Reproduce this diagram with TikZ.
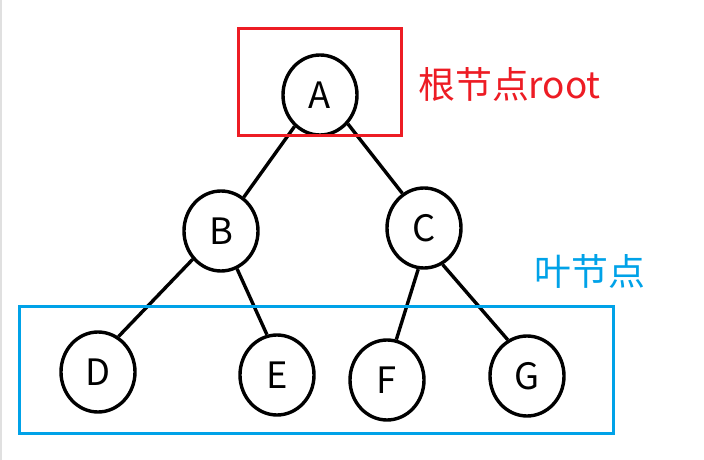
\documentclass[tikz,border=0pt]{standalone}
\usepackage{fontspec}
\setmainfont{Noto Sans CJK SC}
\usetikzlibrary{shapes.geometric}
\definecolor{paintred}{RGB}{237,28,36}
\definecolor{paintblue}{RGB}{0,162,232}

\begin{document}
\begin{tikzpicture}[x=0.03cm, y=-0.03cm,
	treenode/.style={shape=ellipse, draw, line width=2.9pt, inner sep=0pt, minimum width=2.22cm, minimum height=2.4cm, font=\fontsize{31}{32}\selectfont},
	edge/.style={line width=2.9pt},
	framebox/.style={line width=2.9pt},
	tag/.style={anchor=west, inner sep=0pt, font=\fontsize{31.5}{33}\selectfont}]
	\useasboundingbox (0,0) rectangle (704,460);
	\draw[black!12, line width=1pt] (1,0) -- (1,460);
	% Paths, nodes and wires:
	\node[treenode] (A) at (320,95){A};
	\node[treenode] (B) at (221,231){B};
	\node[treenode] (C) at (424,228){C};
	\node[treenode] (D) at (98,372){D};
	\node[treenode] (E) at (277,375){E};
	\node[treenode] (F) at (387,380){F};
	\node[treenode] (G) at (527,376){G};
	\draw[edge] (A.231) -- (B.56);
	\draw[edge] (A.314) -- (C.122);
	\draw[edge] (B.225) -- (D.60);
	\draw[edge] (B.293) -- (E.104);
	\draw[edge] (C.262) -- (F.77);
	\draw[edge] (C.297) -- (G.118);
	% Frames and labels:
	\draw[framebox, paintred] (238.5,28.5) rectangle (401.5,135.5);
	\draw[framebox, paintblue] (19.5,306.5) rectangle (613.5,433.5);
	\node[tag, text=paintred] (rootlabel) at (418,84){根节点root};
	\node[tag, text=paintblue] (leaflabel) at (534,271){叶节点};
\end{tikzpicture}
\end{document}
